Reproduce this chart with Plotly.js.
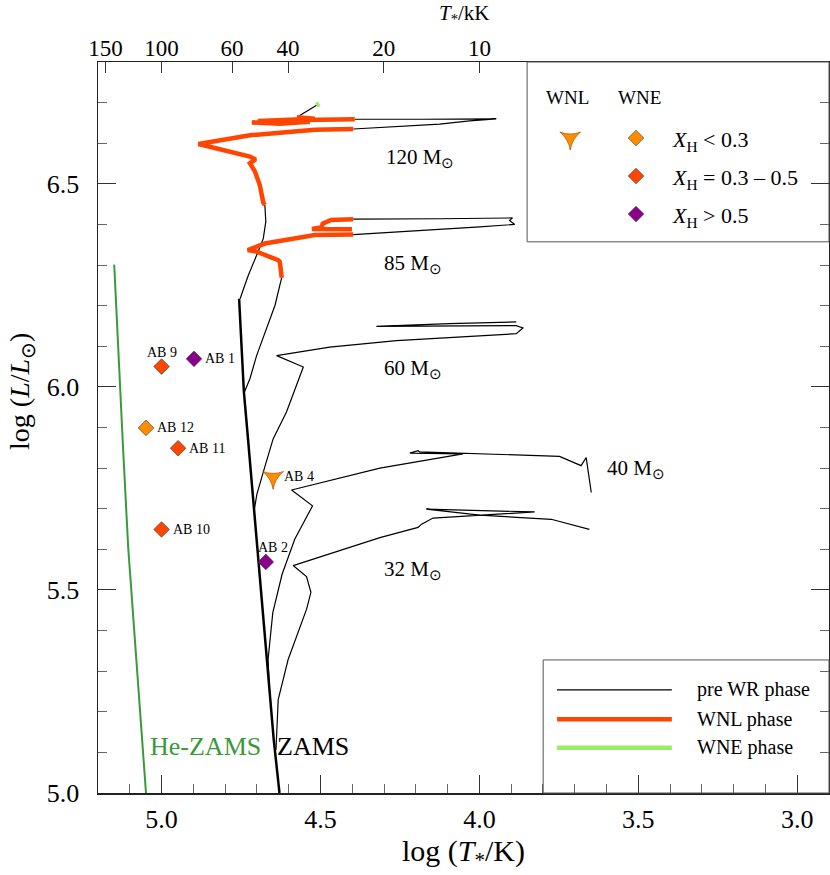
<!DOCTYPE html>
<html>
<head>
<meta charset="utf-8">
<script src="https://cdn.plot.ly/plotly-3.0.1.min.js"></script>
<style>
  body { margin: 0; background: #fff; }
  #hrd { width: 830px; height: 875px; }
</style>
</head>
<body>
<div id="hrd"></div>
<script>
// evolutionary tracks, log T* / log L

// 120 Msun
const t120ms_T = [4.753, 4.727, 4.701, 4.680, 4.672, 4.675];
const t120ms_L = [6.217, 6.275, 6.324, 6.365, 6.407, 6.448];
const t120wnl1_T = [4.675, 4.680, 4.691, 4.706, 4.722, 4.704, 4.722, 4.884, 4.717, 4.518, 4.397];
const t120wnl1_L = [6.448, 6.454, 6.497, 6.530, 6.551, 6.560, 6.567, 6.598, 6.620, 6.633, 6.635];
const t120pre_T = [4.397, 4.251, 4.125, 4.031, 3.947, 4.188, 4.392];
const t120pre_L = [6.635, 6.642, 6.647, 6.655, 6.660, 6.659, 6.659];
const t120wnl2_T = [4.392, 4.565, 4.716, 4.628, 4.533, 4.697, 4.518, 4.574];
const t120wnl2_L = [6.659, 6.657, 6.651, 6.648, 6.653, 6.655, 6.660, 6.664];
const t120post_T = [4.574, 4.511];
const t120post_L = [6.664, 6.694];
const t120wne_T = [4.513, 4.504];
const t120wne_L = [6.693, 6.698];

// 85 Msun
const t85ms_T = [4.739, 4.722, 4.701, 4.669, 4.643, 4.628, 4.622];
const t85ms_L = [5.988, 6.020, 6.077, 6.143, 6.201, 6.250, 6.269];
const t85wnl1_T = [4.622, 4.628, 4.633, 4.701, 4.729, 4.675, 4.518, 4.397];
const t85wnl1_L = [6.269, 6.308, 6.312, 6.333, 6.337, 6.353, 6.374, 6.375];
const t85pre_T = [4.397, 4.188, 3.999, 3.927, 3.889, 3.905, 3.896, 4.125, 4.397];
const t85pre_L = [6.375, 6.384, 6.394, 6.398, 6.400, 6.410, 6.416, 6.414, 6.413];
const t85wnl2_T = [4.397, 4.467, 4.493, 4.496, 4.527, 4.401];
const t85wnl2_L = [6.413, 6.411, 6.402, 6.393, 6.389, 6.388];

// 60 Msun
const t60_T = [4.709, 4.700, 4.680, 4.649, 4.607, 4.554, 4.638, 4.471, 4.261, 3.884, 3.863, 3.884, 4.324, 4.094, 3.884];
const t60_L = [5.694, 5.736, 5.790, 5.872, 5.938, 6.049, 6.077, 6.098, 6.114, 6.131, 6.145, 6.151, 6.149, 6.156, 6.160];

// 40 Msun
const t40_T = [4.659, 4.665, 4.650, 4.621, 4.581, 4.525, 4.591, 4.313, 4.052, 4.219, 4.193, 4.188, 3.748, 3.680, 3.664, 3.648];
const t40_L = [5.230, 5.328, 5.444, 5.538, 5.625, 5.707, 5.746, 5.800, 5.835, 5.837, 5.843, 5.840, 5.829, 5.806, 5.826, 5.740];

// 32 Msun
const t32_T = [4.640, 4.633, 4.602, 4.544, 4.530, 4.544, 4.586, 4.313, 4.193, 4.182, 4.146, 3.826, 4.167, 3.999, 3.774, 3.654];
const t32_L = [5.106, 5.230, 5.328, 5.452, 5.494, 5.533, 5.560, 5.629, 5.654, 5.662, 5.677, 5.692, 5.699, 5.684, 5.674, 5.649];

// zero age main sequences
const zams_T = [4.756, 4.741, 4.728, 4.717, 4.696, 4.669, 4.647, 4.629];
const zams_L = [6.217, 5.988, 5.872, 5.773, 5.575, 5.328, 5.131, 5.000];
const heZams_T = [5.149, 5.140, 5.121, 5.105, 5.077, 5.049];
const heZams_L = [6.301, 6.143, 5.847, 5.605, 5.304, 5.000];

// observed stars
const wneNames = ['AB 1', 'AB 2', 'AB 9', 'AB 10', 'AB 11', 'AB 12'];
const wneLogT = [4.898, 4.672, 5.000, 5.000, 4.948, 5.049];
const wneLogL = [6.069, 5.569, 6.050, 5.649, 5.849, 5.899];
const wneXH = ['high', 'high', 'mid', 'mid', 'mid', 'low'];
const wnlNames = ['AB 4'];
const wnlLogT = [4.649];
const wnlLogL = [5.777];

// track labels
const massLabels = ['120', '85', '60', '40', '32'];
const massLabelT = [4.188, 4.210, 4.210, 3.506, 4.210];
const massLabelL = [6.570, 6.311, 6.052, 5.805, 5.556];

// top axis, T* in kK
const topTicks = [150, 100, 60, 40, 20, 10];

const font = 'Liberation Serif, Times New Roman, serif';
const wnlColor = '#FF4500';
const wneColor = '#99EE66';
const xhColors = { low: '#FF8C00', mid: '#FF4500', high: '#8B008B' };

function line(x, y, color, width) {
  return { x: x, y: y, type: 'scatter', mode: 'lines', showlegend: false,
           line: { color: color, width: width } };
}

const data = [
  line(heZams_T, heZams_L, '#3A9A3A', 2),
  line(zams_T, zams_L, '#000', 2.5),
  line(t120ms_T, t120ms_L, '#000', 1.2),
  line(t120pre_T, t120pre_L, '#000', 1.2),
  line(t120post_T, t120post_L, '#000', 1.2),
  line(t85ms_T, t85ms_L, '#000', 1.2),
  line(t85pre_T, t85pre_L, '#000', 1.2),
  line(t60_T, t60_L, '#000', 1.2),
  line(t40_T, t40_L, '#000', 1.2),
  line(t32_T, t32_L, '#000', 1.2),
  line(t120wnl1_T, t120wnl1_L, wnlColor, 4.5),
  line(t120wnl2_T, t120wnl2_L, wnlColor, 4.5),
  line(t85wnl1_T, t85wnl1_L, wnlColor, 4.5),
  line(t85wnl2_T, t85wnl2_L, wnlColor, 4.5),
  line(t120wne_T, t120wne_L, wneColor, 5)
];

// WNE stars, one trace per hydrogen class
['low', 'mid', 'high'].forEach(k => {
  const idx = wneXH.map((c, i) => c === k ? i : -1).filter(i => i >= 0);
  data.push({
    x: idx.map(i => wneLogT[i]), y: idx.map(i => wneLogL[i]),
    type: 'scatter', mode: 'markers', showlegend: false,
    marker: { symbol: 'diamond', size: 12, color: xhColors[k],
              line: { color: '#333', width: 0.6 } }
  });
});
data.push({
  x: wnlLogT, y: wnlLogL, type: 'scatter', mode: 'markers', showlegend: false,
  marker: { symbol: 'star-triangle-down', size: 15, color: '#FF8C00',
            line: { color: '#8a4a00', width: 0.6 } }
});

// dummy trace so the top axis gets drawn
data.push({ x: [5.0], y: [5.0], xaxis: 'x2', yaxis: 'y', type: 'scatter',
            mode: 'markers', marker: { opacity: 0 }, showlegend: false, hoverinfo: 'skip' });

// legend glyphs on a helper axis running 0..1 across the plot
data.push({
  x: [0.646], y: [0.896], xaxis: 'x3', yaxis: 'y3', type: 'scatter', mode: 'markers',
  showlegend: false,
  marker: { symbol: 'star-triangle-down', size: 15, color: '#FF8C00',
            line: { color: '#8a4a00', width: 0.6 } }
});
data.push({
  x: [0.736, 0.736, 0.736], y: [0.896, 0.844, 0.792], xaxis: 'x3', yaxis: 'y3',
  type: 'scatter', mode: 'markers', showlegend: false,
  marker: { symbol: 'diamond', size: 12, color: [xhColors.low, xhColors.mid, xhColors.high],
            line: { color: '#333', width: 0.6 } }
});
const legLines = [['#000', 1.2, 0.141], [wnlColor, 4.5, 0.101], [wneColor, 4.5, 0.062]];
legLines.forEach(l => {
  data.push({ x: [0.628, 0.785], y: [l[2], l[2]], xaxis: 'x3', yaxis: 'y3',
              type: 'scatter', mode: 'lines', showlegend: false,
              line: { color: l[0], width: l[1] } });
});

const annotations = [];
massLabels.forEach((m, i) => {
  annotations.push({ x: massLabelT[i], y: massLabelL[i], text: m + ' M<sub>⊙</sub>',
                     showarrow: false, yanchor: 'middle', yshift: -3,
                     font: { family: font, size: 21, color: '#000' } });
});
// star names
const nameOffsets = {
  'AB 1': [9, 0, 'left'], 'AB 2': [7, 14, 'center'], 'AB 9': [0, 14, 'center'],
  'AB 10': [9, 0, 'left'], 'AB 11': [9, 0, 'left'], 'AB 12': [9, 0, 'left'], 'AB 4': [9, 1, 'left']
};
wneNames.concat(wnlNames).forEach((n, i) => {
  const x = i < wneNames.length ? wneLogT[i] : wnlLogT[i - wneNames.length];
  const y = i < wneNames.length ? wneLogL[i] : wnlLogL[i - wneNames.length];
  const o = nameOffsets[n];
  annotations.push({ x: x, y: y, text: n, showarrow: false, xanchor: o[2], yanchor: 'middle',
                     xshift: o[0], yshift: o[1], font: { family: font, size: 14, color: '#000' } });
});
annotations.push({ x: 4.863, y: 5.114, text: 'He-ZAMS', showarrow: false, yanchor: 'middle',
                   font: { family: font, size: 26, color: '#3A9A3A' } });
annotations.push({ x: 4.524, y: 5.114, text: 'ZAMS', showarrow: false, yanchor: 'middle',
                   font: { family: font, size: 26, color: '#000' } });
// axis titles placed by hand to sit where the original has them
annotations.push({ xref: 'paper', yref: 'paper', x: -0.104, y: 0.55, textangle: -90,
                   xanchor: 'center', yanchor: 'middle', showarrow: false,
                   text: 'log (<i>L</i>/<i>L</i><sub>⊙</sub>)', font: { family: font, size: 28, color: '#000' } });
annotations.push({ xref: 'paper', yref: 'paper', x: 0.502, y: 1.066,
                   xanchor: 'center', yanchor: 'middle', showarrow: false,
                   text: '<i>T</i><sub>*</sub>/kK', font: { family: font, size: 21, color: '#000' } });
// legend texts
const legText = (x, y, t, anchor, size, dy) => ({ xref: 'paper', yref: 'paper', x: x, y: y, text: t,
  showarrow: false, xanchor: anchor || 'left', yanchor: 'middle', yshift: dy || 0,
  font: { family: font, size: size || 20, color: '#000' } });
annotations.push(legText(0.642, 0.951, 'WNL', 'center', 19));
annotations.push(legText(0.741, 0.951, 'WNE', 'center', 19));
annotations.push(legText(0.782, 0.896, '<i>X</i><sub>H</sub> &lt; 0.3', 'left', 22, -3));
annotations.push(legText(0.782, 0.844, '<i>X</i><sub>H</sub> = 0.3 – 0.5', 'left', 22, -3));
annotations.push(legText(0.782, 0.792, '<i>X</i><sub>H</sub> &gt; 0.5', 'left', 22, -3));
annotations.push(legText(0.817, 0.141, 'pre WR phase'));
annotations.push(legText(0.817, 0.101, 'WNL phase'));
annotations.push(legText(0.817, 0.062, 'WNE phase'));

const shapes = [
  { type: 'rect', xref: 'paper', yref: 'paper', x0: 0.587, x1: 1, y0: 0.754, y1: 1,
    line: { color: '#555', width: 1 } },
  { type: 'rect', xref: 'paper', yref: 'paper', x0: 0.609, x1: 1, y0: 0, y1: 0.182,
    line: { color: '#555', width: 1 } }
];

const axisFont = { family: font, size: 26, color: '#000' };

const layout = {
  width: 830,
  height: 875,
  margin: { l: 98, r: 1, t: 62, b: 82 },
  paper_bgcolor: '#fff',
  plot_bgcolor: '#fff',
  font: { family: font, color: '#000' },
  showlegend: false,
  xaxis: {
    range: [5.2, 2.9], tickvals: [5.0, 4.5, 4.0, 3.5, 3.0], tickformat: '.1f',
    ticks: 'inside', ticklen: 18, tickcolor: '#333', tickwidth: 1,
    minor: { dtick: 0.1, tick0: 0, ticklen: 9, ticks: 'inside', tickcolor: '#666' },
    showline: true, linecolor: '#222', linewidth: 1.5, mirror: true,
    showgrid: false, zeroline: false, tickfont: axisFont, ticklabelstandoff: 2,
    title: { text: 'log (<i>T</i><sub>*</sub>/K)', font: { family: font, size: 30 }, standoff: 2 }
  },
  xaxis2: {
    overlaying: 'x', side: 'top', anchor: 'y', range: [5.2, 2.9],
    tickvals: topTicks.map(t => Math.log10(t * 1000)), ticktext: topTicks.map(String),
    ticks: 'inside', ticklen: 11, tickcolor: '#333', showline: false,
    showgrid: false, zeroline: false, tickfont: { family: font, size: 23, color: '#000' }
  },
  yaxis: {
    range: [5.0, 6.8], tickvals: [5.0, 5.5, 6.0, 6.5], tickformat: '.1f',
    ticks: 'inside', ticklen: 18, tickcolor: '#333', tickwidth: 1,
    minor: { dtick: 0.1, tick0: 0, ticklen: 9, ticks: 'inside', tickcolor: '#666' },
    showline: true, linecolor: '#222', linewidth: 1.5, mirror: 'ticks',
    showgrid: false, zeroline: false, tickfont: axisFont, ticklabelstandoff: 12
  },
  xaxis3: { overlaying: 'x', anchor: 'y3', range: [0, 1], visible: false, fixedrange: true },
  yaxis3: { overlaying: 'y', anchor: 'x3', range: [0, 1], visible: false, fixedrange: true },
  annotations: annotations,
  shapes: shapes
};

Plotly.newPlot('hrd', data, layout, { staticPlot: true, displayModeBar: false });
</script>
</body>
</html>
